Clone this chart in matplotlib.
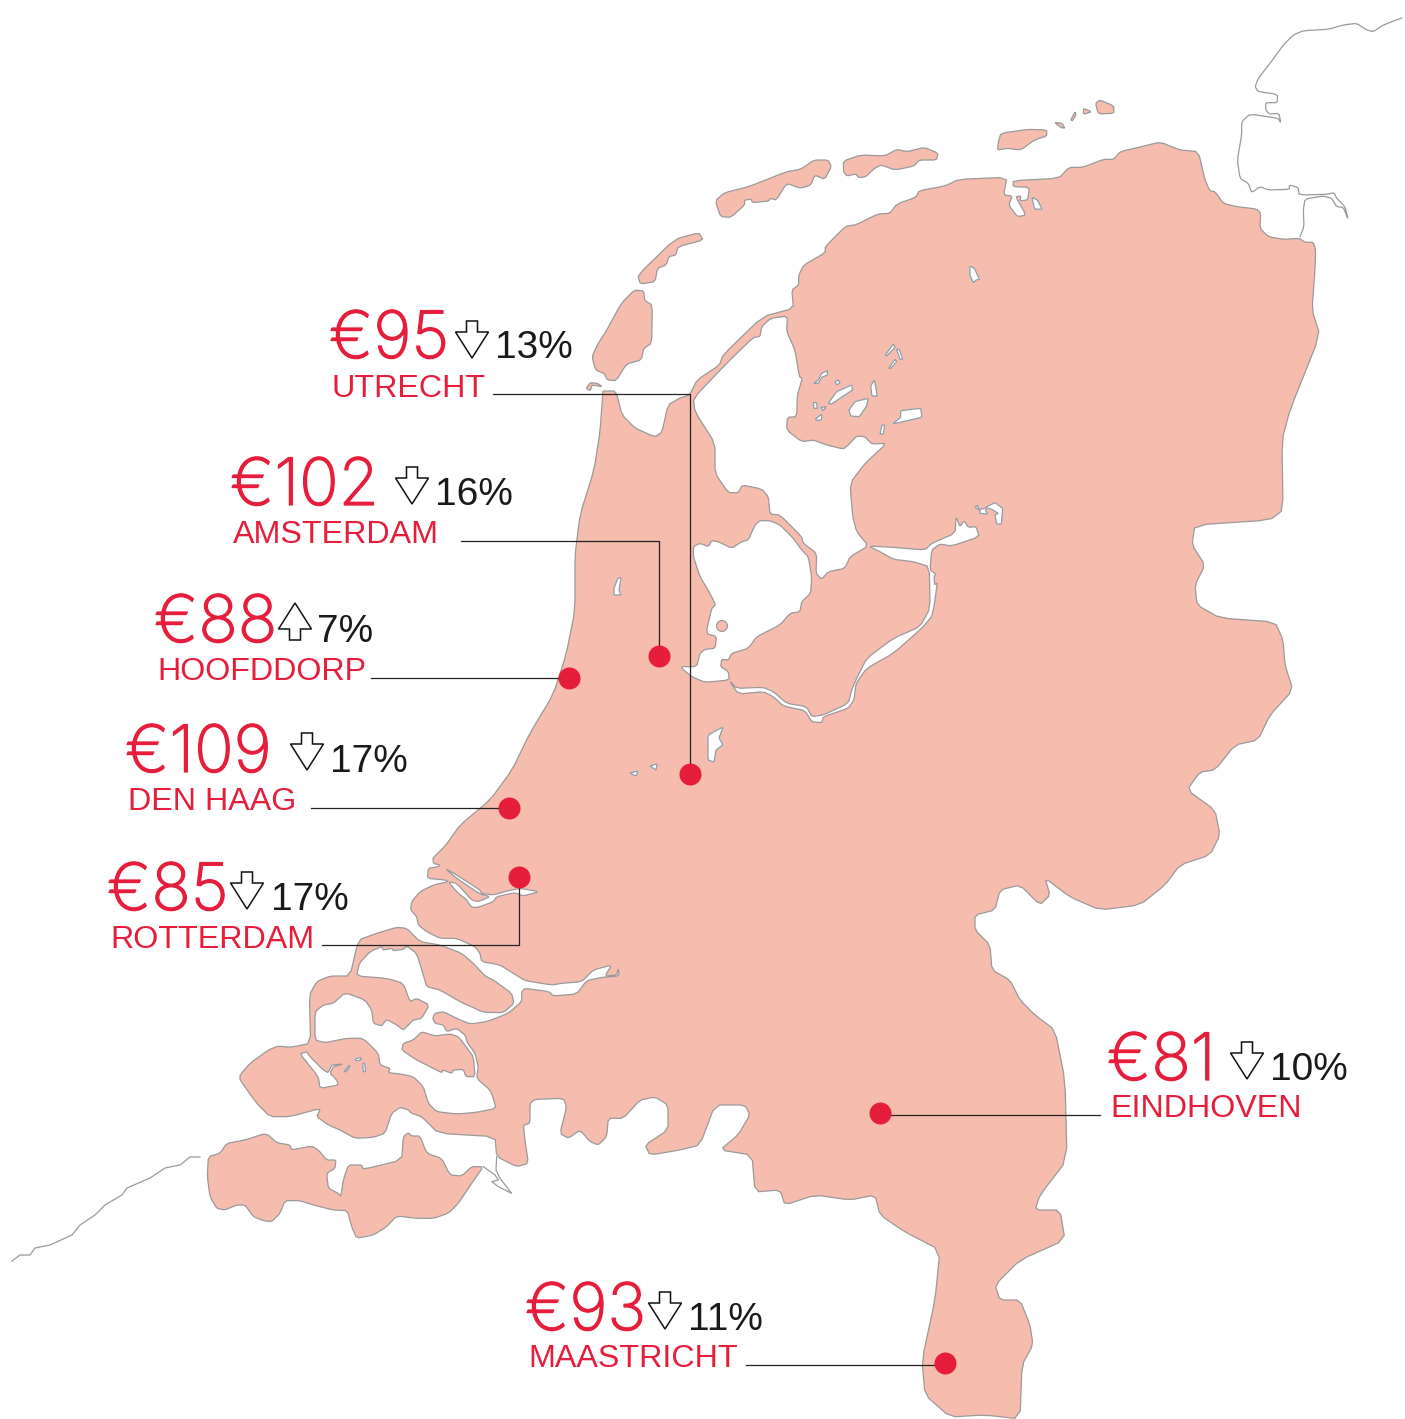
import matplotlib
matplotlib.use("Agg")
import matplotlib.pyplot as plt
import matplotlib.patheffects as pe
from matplotlib.patches import Polygon, Ellipse
from matplotlib.font_manager import FontProperties

PINK = "#F6BCAE"; EDGE = "#9A9A9A"; LAKE_EDGE = "#8AA0AA"; RED = "#E61E3C"; INK = "#1A1A1A"

cities = ["UTRECHT", "AMSTERDAM", "HOOFDDORP", "DEN HAAG", "ROTTERDAM", "EINDHOVEN", "MAASTRICHT"]
prices = ["€95", "€102", "€88", "€109", "€85", "€81", "€93"]
changes = ["13%", "16%", "7%", "17%", "17%", "10%", "11%"]
directions = ["down", "down", "up", "down", "down", "down", "down"]
text_x = [332, 233, 157, 128, 110, 1110, 528]
price_y = [358, 505, 642, 772, 910, 1080, 1330]
label_y = [397, 543, 680, 810, 948, 1117, 1367]
arrow_x = [472, 412, 295, 307, 247, 1247, 665]
arrow_top = [321, 467, 603, 733, 872, 1042, 1292]
change_x = [495, 435, 317, 330, 271, 1270, 688]
dot_x = [690, 659, 569, 509, 519, 880, 945]
dot_y = [774, 656, 678, 808, 877, 1113, 1363]
leaders = [[(493, 394), (690, 394), (690, 774)], [(461, 541), (659, 541), (659, 656)],
           [(371, 678), (569, 678)], [(311, 808), (509, 808)],
           [(322, 945), (519, 945), (519, 877)], [(880, 1115), (1100, 1115)],
           [(746, 1365), (945, 1365)]]

# ---- outline data. Crop coordinates are converted by crop()
west_coast = [(603,391),(600,432),(594,470),(580,515),(575,555),(575,610),(566,655),(553,695),(530,733),(512,770),(490,800),(460,825),(446,845),(433,858)]
sw_crop = [(700,40),(720,45),(715,50),(685,55),(682,85),(735,90),(745,95),(700,105),(660,125),(635,155),(632,180),(650,200),(655,225),(680,245),(720,265),(770,265),(825,290),(840,310),(845,335),(900,345),(940,370),(975,392),(1055,405),(1085,400),(1145,395),(1180,360),(1235,345),(1215,378),(1250,375),(1255,355),(1257,378),(1205,382),(1160,392),(1130,432),(1060,438),(1048,425),(975,415),(965,425),(965,455),(925,490),(860,515),(810,522),(770,505),(730,485),(705,490),(698,505),(705,520),(730,525),(740,545),(770,535),(795,555),(802,578),(825,610),(835,650),(830,685),(870,720),(880,745),(888,775),(830,787),(770,792),(710,785),(685,760),(670,710),(640,680),(600,672),(565,668),(570,655),(540,645),(535,610),(490,565),(440,565),(375,578),(345,570),(345,485),(370,465),(400,460),(435,428),(495,450),(515,480),(520,520),(545,528),(560,508),(590,525),(610,540),(625,525),(640,510),(665,505),(688,465),(650,445),(630,455),(610,400),(560,385),(470,378),(478,340),(510,305),(545,290),(550,300),(575,295),(580,302),(610,298),(620,288),(650,310),(670,375),(680,410),(720,420),(780,455),(850,487),(910,488),(942,460),(935,430),(880,390),(855,378),(820,340),(785,310),(720,285),(660,275),(620,235),(590,232),(530,250),(475,270),(450,378),(390,378),(350,395),(328,435),(332,580),(270,592),(235,588),(205,600),(150,640),(120,675),(120,690),(170,760),(210,800),(270,800),(362,775),(350,800),(385,825),(420,840),(465,865),(520,862),(555,850),(575,790),(600,772),(625,780),(635,790),(665,800),(715,850),(885,860),(890,920),(950,950),(985,940),(975,870),(970,825),(990,820),(990,760),(1005,748),(1090,745),(1100,770),(1080,850),(1105,865),(1140,840),(1170,875),(1195,885),(1220,860),(1225,805),(1270,805),(1320,750)]
south_east = [(655,1097),(668,1105),(668,1130),(645,1145),(650,1155),(680,1150),(700,1145),(715,1105),(745,1105),(750,1115),(738,1135),(720,1150),(752,1155),(755,1192),(780,1190),(785,1205),(815,1195),(850,1200),(875,1195),(880,1215),(905,1232),(940,1250),(935,1300),(922,1360),(925,1395),(950,1417),(985,1415),(1020,1419),(1022,1365),(1033,1345),(1030,1325),(1020,1300),(1000,1300),(995,1285),(1020,1260),(1065,1240),(1060,1210),(1035,1210),(1040,1195),(1067,1160),(1065,1080),(1055,1030),(1035,1015),(1020,1000),(1010,980),(992,970),(990,945),(975,930),(975,915),(995,910),(1000,890),(1020,885),(1040,905),(1050,895),(1045,878),(1070,897),(1100,910),(1140,905),(1165,885),(1180,865),(1210,855),(1220,835),(1215,810),(1187,790),(1200,772),(1215,770),(1235,745),(1258,740),(1270,715),(1293,690),(1285,665),(1283,640),(1275,622),(1220,618),(1197,605),(1195,585),(1205,565),(1192,545),(1195,525),(1270,520),(1283,510),(1282,440),(1290,410),(1320,335),(1312,310),(1315,270)]
north_head = [(603,391),(616,391),(622,415),(635,428),(655,437),(662,432),(668,405),(680,398)]
north_crop = [(318,915),(340,870),(405,825),(415,795),(530,680),(620,655),(615,600),(635,585),(635,555),(650,525),(712,488),(712,470),(772,408),(800,405),(865,372),(900,370),(920,342),(975,322),(985,302),(1060,288),(1100,268),(1240,262),(1230,315),(1255,318),(1245,345),(1270,380),(1295,375),(1265,320),(1280,318),(1278,332),(1300,330),(1305,292),(1258,290),(1258,272),(1390,265),(1420,232),(1460,232),(1520,208),(1550,208),(1568,185)]
north_mid = [(1140,147),(1160,142)]
ne_crop = [(0,420),(55,425),(75,510),(90,543),(105,545),(130,580),(170,590),(230,597),(242,610),(240,655),(265,680),(310,688),(358,685),(375,697),(400,697),(407,720)]

ijsselmeer = [(322,48),(272,55),(245,80),(240,110),(220,112),(140,190),(40,295),(45,335),(105,430),(105,520),(145,578),(175,578),(187,555),(245,567),(265,590),(270,642),(300,645),(365,710),(370,730),(410,760),(408,820),(425,838),(445,815),(495,805),(510,770),(565,738),(530,695),(518,650),(510,550),(555,490),(620,430),(575,432),(555,410),(530,408),(505,435),(490,447),(440,435),(400,420),(365,425),(320,390),(322,352),(350,350),(352,285),(367,235),(358,230),(345,150),(320,95)]
markermeer = [(40,740),(60,730),(85,740),(95,722),(115,725),(155,745),(185,725),(205,720),(225,675),(240,662),(270,662),(300,675),(340,715),(365,750),(385,770),(395,830),(392,880),(365,905),(360,935),(330,940),(300,975),(230,1010),(205,1045),(155,1060),(145,1080),(125,1078),(122,1100),(145,1115),(148,1140),(75,1147),(35,1130),(0,1100),(50,1100),(60,1060),(75,1048),(105,1045),(110,1010),(78,1000),(95,925),(107,915),(90,880),(60,830),(40,770)]
randmeren = [(565,738),(640,742),(735,750),(755,730),(825,700),(828,650),(840,680),(852,662),(865,682),(888,680),(898,710),(815,738),(780,732),(755,750),(750,810),(768,822),(762,830),(764,855),(772,848),(762,920),(755,950),(725,985),(640,1060),(560,1105),(528,1150),(522,1200),(505,1225),(430,1250),(425,1268),(395,1265),(375,1232),(310,1218),(280,1190),(250,1175),(175,1182),(148,1142),(170,1165),(250,1162),(280,1175),(320,1210),(380,1220),(395,1250),(430,1245),(505,1210),(515,1170),(530,1135),(560,1075),(640,1015),(720,980),(750,925),(748,800),(700,785),(640,778),(600,755)]
friesland_lakes = [
    [(402,250),(415,240),(425,220),(442,212),(442,225),(425,232),(415,250)],
    [(465,245),(475,240),(480,248),(470,255)],
    [(445,310),(470,275),(515,255),(518,270),(490,288),(455,312)],
    [(507,330),(525,305),(565,295),(560,318),(538,350),(512,348)],
    [(572,258),(583,240),(592,288),(576,288)],
    [(400,308),(410,308),(412,325),(402,325)],
    [(423,322),(438,320),(430,332)],
    [(406,358),(425,342),(425,358),(412,362)],
    [(638,372),(662,352),(662,332),(722,325),(726,352)],
    [(600,402),(606,375),(614,375),(610,402)],
    [(616,165),(640,132),(645,142),(620,168)],
    [(650,148),(658,148),(668,178),(660,178)],
    [(626,205),(645,178),(650,185),(632,205)],
    [(885,622),(893,616),(898,630)],
    [(900,628),(915,625),(922,642),(900,640)],
    [(916,622),(945,608),(968,625),(964,672),(950,672),(945,645),(955,640),(935,628)],
]
waterway = [(735,55),(770,75),(840,120),(845,130),(880,135),(925,122),(960,115),(1018,125),(970,138),(945,128),(890,140),(880,155),(835,172),(815,172),(800,150),(770,125),(745,95),(770,100),(815,150),(835,155),(870,140),(840,132),(770,85)]
zeeland_water = [(300,612),(320,605),(330,620),(370,660),(385,668),(395,645),(430,642),(400,650),(390,670),(410,690),(415,705),(360,715),(355,680)]
zeeland_small = [[(465,628),(480,622),(485,628),(470,633)],[(432,665),(448,645),(450,650),(438,665)],[(488,640),(494,640),(497,665),(490,665)]]
tholen = [(605,600),(610,580),(640,570),(665,545),(705,558),(750,552),(775,560),(798,590),(820,620),(825,680),(798,680),(790,658),(760,660),(755,670),(730,660),(725,668),(680,645),(650,630)]
zvl = [(25,920),(60,910),(80,880),(135,870),(190,852),(205,855),(230,878),(270,885),(275,900),(335,888),(355,900),(380,930),(408,930),(405,955),(380,970),(385,1015),(415,1030),(422,1040),(430,990),(445,945),(485,945),(490,958),(605,930),(610,860),(625,848),(635,858),(660,858),(680,910),(725,925),(750,975),(785,978),(815,950),(850,950),(815,1000),(775,1060),(745,1090),(700,1105),(650,1105),(590,1098),(560,1130),(520,1155),(470,1165),(455,1130),(442,1082),(400,1080),(340,1065),(300,1052),(255,1052),(240,1090),(215,1115),(190,1112),(160,1100),(135,1065),(110,1065),(75,1080),(50,1075),(30,1040),(22,980)]
zvl_border = [(850,950),(885,975),(895,990),(875,995),(895,1010),(935,1030),(900,985),(888,960),(890,920)]
islands = [
    [(158,600),(185,603),(188,632),(210,645),(208,760),(185,775),(178,810),(135,822),(105,872),(80,870),(70,850),(45,840),(35,800),(50,765),(75,725),(120,640)],
    [(18,895),(30,878),(50,880),(65,890),(35,885),(30,902)],
    [(168,555),(275,448),(345,428),(358,450),(285,470),(278,495),(258,500),(250,525),(225,535),(218,575),(175,582)],
    [(393,332),(420,308),(490,290),(600,245),(640,238),(680,210),(720,210),(730,230),(710,268),(682,255),(670,285),(640,295),(600,280),(570,330),(552,325),(548,333),(500,338),(498,328),(478,330),(478,345),(438,382),(408,380)],
    [(765,213),(815,195),(885,198),(920,178),(950,185),(1000,172),(1040,190),(1035,210),(985,210),(970,228),(915,240),(875,225),(855,235),(830,260),(810,263),(800,252),(775,258),(765,245)],
    [(1222,130),(1300,118),(1355,120),(1355,138),(1320,150),(1280,180),(1240,175),(1212,180),(1215,155)],
    [(1378,97),(1400,100),(1408,115),(1395,112)],
    [(1425,90),(1438,65),(1440,75),(1430,92)],
    [(1462,55),(1485,65),(1462,73)],
    [(1497,40),(1510,30),(1550,48),(1550,70),(1505,72)],
]
north_lakes = [[(1132,528),(1145,535),(1160,568),(1150,570),(1142,578),(1132,555)],
               [(1312,322),(1328,330),(1342,358),(1320,357)]]
inland_lakes = [[(708,735),(723,727),(719,738),(723,745),(716,750),(714,762),(708,760)],
                [(630,773),(638,771),(636,776)],[(650,766),(657,764),(656,770)],
                [(618,578),(621,578),(619,590),(621,595),(614,595),(614,588)]]
german_coast = [(675,20),(610,45),(580,65),(560,60),(530,40),(490,45),(445,58),(370,62),(340,75),(310,105),(270,160),(235,205),(225,230),(235,245),(292,253),(292,278),(257,278),(257,300),(268,312),(297,310),(302,338),(295,325),(210,312),(185,335),(185,375),(172,450),(180,505),(205,520),(215,548),(240,530),(265,540),(328,538),(328,525),(355,533),(357,555),(440,553),(462,548),(470,565),(495,590),(505,630),(490,592),(470,590),(455,565),(430,558),(375,567),(370,600),(372,650),(358,685)]
belgian_coast = [(200,1157),(190,1157),(180,1165),(165,1168),(150,1178),(127,1188),(122,1195),(105,1205),(95,1215),(80,1225),(72,1235),(50,1245),(35,1248),(30,1255),(20,1255),(12,1261)]
arrow_shape = [(-5.5,0),(5.5,0),(5.5,11),(16.5,11),(0,37),(-16.5,11),(-5.5,11)]


def crop(points, x0, y0, sx=3.0, sy=3.0):
    return [(x0 + x / sx, y0 + y / sy) for x, y in points]


def soften(points, closed=True, q=0.15):
    out = []
    n = len(points)
    for i in range(n if closed else n - 1):
        a, b = points[i], points[(i + 1) % n]
        out.append((a[0] + q * (b[0] - a[0]), a[1] + q * (b[1] - a[1])))
        out.append((b[0] - q * (b[0] - a[0]), b[1] - q * (b[1] - a[1])))
    return out


fig = plt.figure(figsize=(14.05, 14.19), dpi=100)
ax = fig.add_axes([0, 0, 1, 1])
ax.set_xlim(0, 1405); ax.set_ylim(1419, 0); ax.axis("off")


def land(pts, z=2):
    ax.add_patch(Polygon(soften(pts), closed=True, fc=PINK, ec=EDGE, lw=0.9, zorder=z))


def water(pts, z=3, ec=EDGE, q=0.15):
    ax.add_patch(Polygon(soften(pts, q=q), closed=True, fc="white", ec=ec, lw=0.9, zorder=z))


Z1 = (200, 850); Z2 = (680, 300); Z3 = (580, 90, 1568 / 540, 3.0); Z5 = (1180, 10)
north = north_head + crop(north_crop, *Z3) + north_mid + crop(ne_crop, *Z5)
land(west_coast + crop(sw_crop, *Z1) + south_east + north[::-1])
for w in (ijsselmeer, markermeer, randmeren):
    water(crop(w, *Z2))
ax.add_patch(Ellipse((722, 626), 11, 11, fc=PINK, ec=EDGE, lw=0.8, zorder=4))
for w in friesland_lakes:
    water(crop(w, *Z2), ec=LAKE_EDGE, q=0.08)
water(crop(waterway, *Z1)); water(crop(zeeland_water, *Z1))
for w in zeeland_small:
    water(crop(w, *Z1), ec=LAKE_EDGE)
land(crop(tholen, *Z1), 4)
land(crop(zvl, *Z1), 4)
ax.plot(*zip(*crop(zvl_border, *Z1)), color=EDGE, lw=0.9, zorder=4)
for i in islands:
    land(crop(i, *Z3))
for w in north_lakes:
    water(crop(w, *Z3), ec=LAKE_EDGE, q=0.08)
for w in inland_lakes:
    water(w, ec=LAKE_EDGE, q=0.08)
ax.plot(*zip(*soften(crop(german_coast, *Z5), closed=False)), color=EDGE, lw=0.9, zorder=2)
ax.plot(*zip(*belgian_coast), color=EDGE, lw=0.9, zorder=2)

for path in leaders:
    ax.plot(*zip(*path), color="#222222", lw=0.9, zorder=6, solid_joinstyle="miter")
ax.scatter(dot_x, dot_y, s=(22 * 0.72) ** 2, color=RED, linewidths=0, zorder=7)

big = FontProperties(family="Inter", weight="light")
small = FontProperties(family="Liberation Sans")
thicker = [pe.withStroke(linewidth=0.9, foreground=RED)]
for i, city in enumerate(cities):
    ax.text(text_x[i] - 3, price_y[i], prices[i], fontproperties=big, fontsize=47, color=RED, va="baseline", ha="left", zorder=8, path_effects=thicker)
    ax.text(text_x[i], label_y[i], city, fontproperties=small, fontsize=23.2, color=RED, va="baseline", ha="left", zorder=8)
    ax.text(change_x[i], price_y[i], changes[i], fontproperties=small, fontsize=28, color=INK, va="baseline", ha="left", zorder=8)
    top = arrow_top[i]
    if directions[i] == "down":
        pts = [(arrow_x[i] + dx, top + dy) for dx, dy in arrow_shape]
    else:
        pts = [(arrow_x[i] + dx, top + 37 - dy) for dx, dy in arrow_shape]
    ax.add_patch(Polygon(pts, closed=True, fc="white", ec="#111111", lw=1.1, zorder=8))

fig.savefig("out.png", dpi=100, facecolor="white")
